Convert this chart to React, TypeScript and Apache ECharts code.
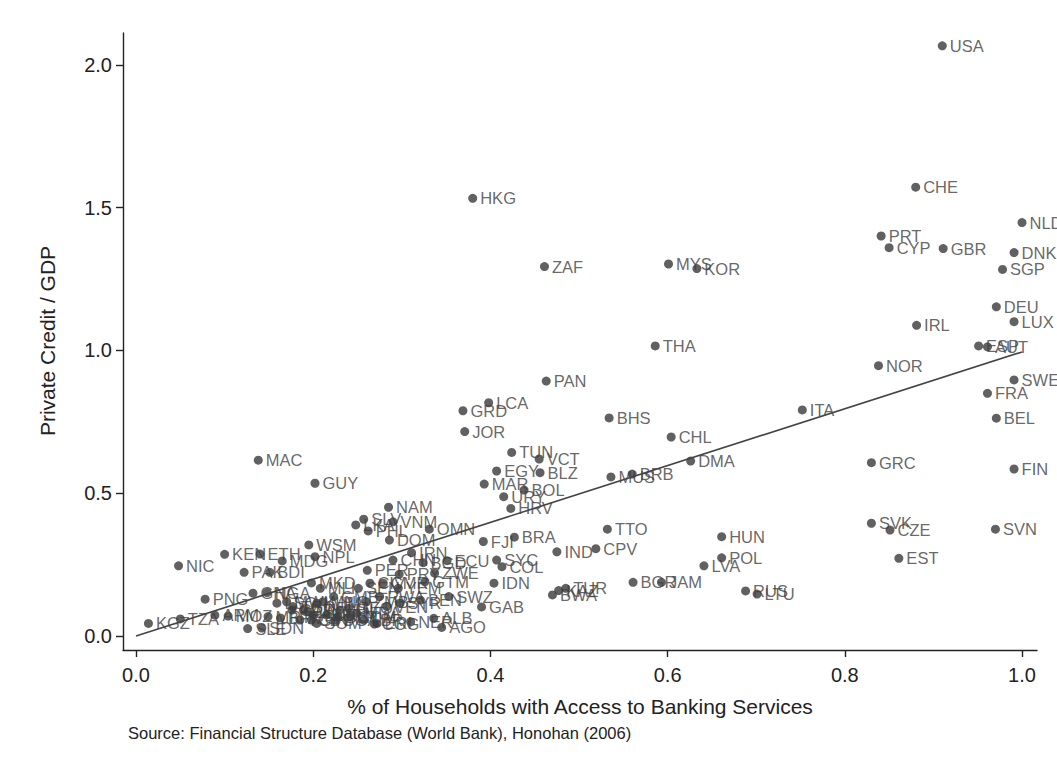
import React, { useEffect, useRef } from "react";
import * as echarts from "echarts";

// Country codes, share of households with access to banking services, and private credit / GDP
const countries = [
  "USA", "CHE", "HKG", "NLD", "PRT", "CYP", "GBR", "DNK", "MYS", "ZAF",
  "KOR", "SGP", "DEU", "LUX", "IRL", "ESP", "AUT", "THA", "NOR", "SWE",
  "PAN", "FRA", "LCA", "ITA", "GRD", "BHS", "BEL", "JOR", "CHL", "TUN",
  "VCT", "MAC", "DMA", "GRC", "FIN", "EGY", "BLZ", "BRB", "MUS", "GUY",
  "MAR", "BOL", "URY", "NAM", "HRV", "SLV", "VNM", "SVK", "LKA", "OMN",
  "TTO", "SVN", "CZE", "PHL", "HUN", "BRA", "DOM", "FJI", "WSM", "CPV",
  "IND", "IRN", "ETH", "KEN", "NPL", "POL", "EST", "SYC", "CHN", "ECU",
  "MDG", "BGD", "NIC", "LVA", "COL", "PER", "PAK", "BDI", "ZWE", "PRY",
  "GTM", "BGR", "JAM", "MKD", "IDN", "CIV", "CMR", "MLI", "SEN", "YEM",
  "TUR", "KAZ", "RUS", "NGA", "GHA", "LTU", "BWA", "SWZ", "GMB", "RWA",
  "PNG", "BEN", "MWI", "MNG", "ZMB", "LSO", "KHM", "SYR", "TGO", "VEN",
  "GAB", "GEO", "CAF", "DJI", "HTI", "LAO", "MDA", "AZE", "UKR", "ARM",
  "MOZ", "MRT", "BLR", "COM", "BFA", "ALB", "TZA", "TCD", "GIN", "UGA",
  "LBR", "NER", "KGZ", "ERI", "SOM", "COG", "AGO", "SDN", "SLE",
];

const householdAccess = [
  0.910, 0.880, 0.380, 1.000, 0.841, 0.850, 0.911, 0.991, 0.601, 0.461,
  0.633, 0.978, 0.971, 0.991, 0.881, 0.951, 0.961, 0.586, 0.838, 0.991,
  0.463, 0.961, 0.398, 0.752, 0.369, 0.534, 0.971, 0.371, 0.604, 0.424,
  0.455, 0.138, 0.626, 0.830, 0.991, 0.407, 0.456, 0.560, 0.536, 0.202,
  0.393, 0.438, 0.415, 0.285, 0.423, 0.257, 0.290, 0.830, 0.248, 0.331,
  0.532, 0.970, 0.851, 0.262, 0.661, 0.427, 0.286, 0.392, 0.195, 0.519,
  0.475, 0.311, 0.140, 0.100, 0.202, 0.661, 0.861, 0.407, 0.290, 0.351,
  0.165, 0.324, 0.048, 0.641, 0.413, 0.261, 0.122, 0.151, 0.337, 0.297,
  0.326, 0.561, 0.593, 0.198, 0.404, 0.264, 0.279, 0.208, 0.251, 0.296,
  0.485, 0.477, 0.688, 0.148, 0.132, 0.701, 0.470, 0.353, 0.223, 0.275,
  0.078, 0.321, 0.170, 0.211, 0.260, 0.159, 0.204, 0.298, 0.177, 0.283,
  0.390, 0.240, 0.176, 0.189, 0.230, 0.194, 0.249, 0.200, 0.215, 0.089,
  0.104, 0.149, 0.228, 0.242, 0.163, 0.336, 0.050, 0.185, 0.198, 0.225,
  0.257, 0.310, 0.014, 0.272, 0.204, 0.269, 0.345, 0.142, 0.126,
];

const privateCredit = [
  2.067, 1.572, 1.533, 1.448, 1.401, 1.360, 1.357, 1.343, 1.303, 1.294,
  1.287, 1.284, 1.153, 1.101, 1.088, 1.016, 1.013, 1.016, 0.947, 0.897,
  0.893, 0.850, 0.817, 0.792, 0.789, 0.764, 0.763, 0.716, 0.697, 0.643,
  0.620, 0.616, 0.613, 0.607, 0.585, 0.578, 0.572, 0.567, 0.557, 0.535,
  0.532, 0.511, 0.488, 0.451, 0.447, 0.409, 0.400, 0.395, 0.389, 0.374,
  0.374, 0.374, 0.371, 0.368, 0.348, 0.346, 0.336, 0.331, 0.319, 0.306,
  0.295, 0.292, 0.287, 0.286, 0.278, 0.274, 0.272, 0.266, 0.266, 0.264,
  0.263, 0.257, 0.246, 0.246, 0.243, 0.230, 0.223, 0.223, 0.220, 0.216,
  0.190, 0.188, 0.188, 0.186, 0.185, 0.185, 0.185, 0.167, 0.167, 0.167,
  0.167, 0.159, 0.158, 0.152, 0.150, 0.147, 0.144, 0.138, 0.138, 0.138,
  0.129, 0.126, 0.120, 0.120, 0.120, 0.115, 0.115, 0.115, 0.103, 0.103,
  0.102, 0.097, 0.091, 0.091, 0.091, 0.085, 0.080, 0.074, 0.074, 0.073,
  0.070, 0.068, 0.068, 0.068, 0.063, 0.062, 0.060, 0.056, 0.056, 0.056,
  0.056, 0.050, 0.044, 0.044, 0.044, 0.042, 0.030, 0.028, 0.026,
];

// Fitted linear trend, read at its two ends
const fitAccess = [0.0, 1.0];
const fitCredit = [0.0, 0.995];

const xTicks = [0, 0.2, 0.4, 0.6, 0.8, 1.0];
const yTicks = [0, 0.5, 1.0, 1.5, 2.0];

const xTitle = "% of Households with Access to Banking Services";
const yTitle = "Private Credit / GDP";
const sourceNote = "Source: Financial Structure Database (World Bank), Honohan (2006)";

const FONT = "'Liberation Sans', Arial, Helvetica, sans-serif";
const INK = "#3a3a3a";

export default function App() {
  const ref = useRef<HTMLDivElement>(null);

  useEffect(() => {
    document.body.style.margin = "0";
    const el = ref.current;
    if (!el) return;
    const chart = echarts.init(el, null, { renderer: "svg" });

    const points = countries.map((c, i) => ({
      name: c,
      value: [householdAccess[i], privateCredit[i]],
    }));
    const fit = fitAccess.map((x, i) => [x, fitCredit[i]]);

    const axisLineStyle = { color: "#222", width: 1.4 };

    chart.setOption({
      animation: false,
      backgroundColor: "#fff",
      grid: { left: 123, top: 33, right: 20, bottom: 120, containLabel: false },
      xAxis: {
        type: "value",
        min: -0.0147,
        max: 1.0169,
        axisLine: { show: true, onZero: false, lineStyle: axisLineStyle },
        axisTick: { show: true, length: 7, customValues: xTicks, lineStyle: axisLineStyle },
        axisLabel: {
          customValues: xTicks,
          formatter: (v: number) => v.toFixed(1),
          fontSize: 20,
          color: "#222",
          fontFamily: FONT,
          margin: 15,
        },
        splitLine: { show: false },
      },
      yAxis: {
        type: "value",
        min: -0.049,
        max: 2.112,
        axisLine: { show: true, onZero: false, lineStyle: axisLineStyle },
        axisTick: { show: true, length: 7, customValues: yTicks, lineStyle: axisLineStyle },
        axisLabel: {
          customValues: yTicks,
          formatter: (v: number) => v.toFixed(1),
          fontSize: 20,
          color: "#222",
          fontFamily: FONT,
          margin: 11,
        },
        splitLine: { show: false },
      },
      series: [
        {
          type: "scatter",
          data: points,
          symbol: "circle",
          symbolSize: 9,
          itemStyle: { color: INK },
          label: {
            show: true,
            position: "right",
            distance: 3,
            formatter: "{b}",
            fontSize: 16.5,
            color: "#404040",
            fontFamily: FONT,
          },
          z: 2,
        },
        {
          type: "line",
          data: fit,
          showSymbol: false,
          symbol: "none",
          lineStyle: { color: "#444", width: 1.6 },
          z: 3,
          silent: true,
        },
      ],
      graphic: [
        {
          type: "text",
          x: 580,
          y: 706,
          style: {
            text: xTitle,
            fontSize: 21,
            fontFamily: FONT,
            fill: "#222",
            align: "center",
            verticalAlign: "middle",
          },
        },
        {
          type: "text",
          x: 47,
          y: 341,
          rotation: Math.PI / 2,
          style: {
            text: yTitle,
            fontSize: 21,
            fontFamily: FONT,
            fill: "#222",
            align: "center",
            verticalAlign: "middle",
          },
        },
        {
          type: "text",
          x: 128,
          y: 733,
          style: {
            text: sourceNote,
            fontSize: 16.5,
            fontFamily: FONT,
            fill: "#222",
            align: "left",
            verticalAlign: "middle",
          },
        },
      ],
    });

    return () => chart.dispose();
  }, []);

  return <div ref={ref} style={{ width: 1057, height: 770 }} />;
}
